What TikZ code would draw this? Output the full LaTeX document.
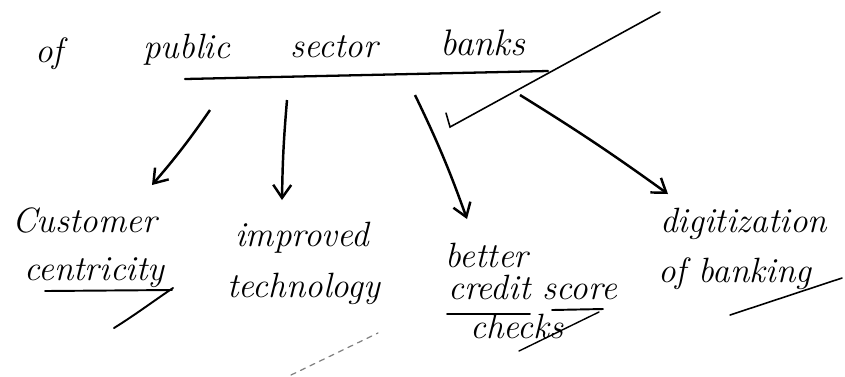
\documentclass[tikz,border=0pt]{standalone}
\usepackage{tikz}
\usetikzlibrary{arrows.meta,positioning}

\tikzset{
  hand/.style={font=\fontsize{20}{24}\selectfont\itshape,inner sep=0pt,anchor=base west},
  arr/.style={line width=1.4pt,-{Straight Barb[length=2.6mm,width=3.6mm]}},
  stroke/.style={line width=1.1pt,line cap=round},
}

\begin{document}
\begin{tikzpicture}
  \useasboundingbox (0,0) rectangle (16.9,-7.52);

  %% heading
  \node[hand] (of)     at (0.70,-1.24) {of};
  \node[hand] (public) at (2.86,-1.16) {public};
  \node[hand] (sector) at (5.80,-1.14) {sector};
  \node[hand,font=\fontsize{21}{24}\selectfont\itshape] (banks) at (8.80,-1.10) {banks};
  \draw[stroke,line width=1.3pt] (3.70,-1.58) -- (10.96,-1.42);
  %% tick across the heading
  \draw[stroke,line width=0.9pt] (8.92,-2.26) -- (9.00,-2.54) -- (13.20,-0.24);

  %% branches
  \node[hand] (cust)  at (0.24,-4.64) {Customer};
  \node[hand] (cent)  at (0.48,-5.60) {centricity};
  \node[hand] (impr)  at (4.70,-4.92) {improved};
  \node[hand] (tech)  at (4.54,-5.94) {technology};
  \node[hand] (bett)  at (8.90,-5.34) {better};
  \node[hand] (cred)  at (8.96,-5.98) {credit score};
  \node[hand] (chk)   at (9.40,-6.76) {checks};
  \node[hand] (digi)  at (13.20,-4.64) {digitization};
  \node[hand] (bank)  at (13.16,-5.64) {of banking};

  %% arrow ends
  \coordinate (from1) at (4.20,-2.20);
  \coordinate (from2) at (5.74,-2.00);
  \coordinate (from3) at (8.30,-1.90);
  \coordinate (from4) at (10.40,-1.90);
  \coordinate (to1) at (3.04,-3.70);
  \coordinate (to2) at (5.64,-4.00);
  \coordinate (to3) at (9.34,-4.38);
  \coordinate (to4) at (13.36,-3.88);

  \draw[arr] (from1) to[bend left=3] (to1);
  \draw[arr] (from2) to[bend right=2] (to2);
  \draw[arr] (from3) to[bend left=3] (to3);
  \draw[arr] (from4) to[bend left=2] (to4);

  %% underlines and marks
  \draw[stroke] (0.90,-5.82) -- (3.44,-5.80);
  \draw[stroke] (2.28,-6.56) .. controls (2.70,-6.30) and (3.10,-6.00) .. (3.46,-5.76);
  \draw[stroke] (8.94,-6.28) -- (10.60,-6.28);
  \draw[stroke] (11.04,-6.20) -- (12.06,-6.18);
  \draw[stroke,line width=0.8pt] (10.38,-7.02) -- (11.98,-6.24);
  \draw[stroke,line width=0.9pt] (14.60,-6.30) -- (16.84,-5.56);
  \draw[stroke,line width=0.7pt,gray,dashed] (5.82,-7.50) -- (7.56,-6.66);
\end{tikzpicture}
\end{document}
